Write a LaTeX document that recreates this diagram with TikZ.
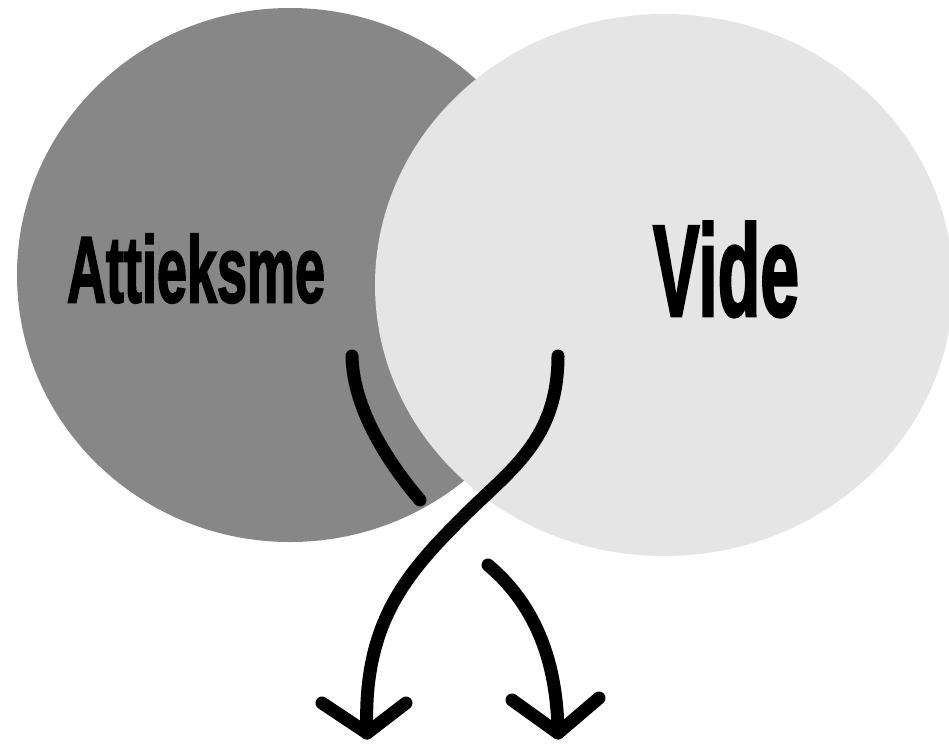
\documentclass[tikz,border=0pt]{standalone}
\usepackage{fontspec}
\setmainfont{Liberation Sans}
\newfontfamily\heavyfont[FakeBold=2.5]{Liberation Sans Bold}
\usetikzlibrary{shapes.geometric}
\definecolor{darkgrey}{RGB}{135,135,135}
\definecolor{lightgrey}{RGB}{229,229,229}
\tikzset{
  blob/.style={ellipse, draw=none, inner sep=0pt, outer sep=0pt},
  label/.style={inner sep=0pt, outer sep=0pt, anchor=south west},
  stroke/.style={line width=13pt, line cap=round, line join=round, black},
}
\begin{document}
\begin{tikzpicture}[x=1pt,y=-1pt]
\useasboundingbox (0,0) rectangle (949,744);
\node[blob, fill=darkgrey, minimum width=546pt, minimum height=534pt] (att) at (290,275) {};
\node[blob, fill=lightgrey, minimum width=578pt, minimum height=542pt] (vid) at (664,285) {};
\node[label] (tatt) at (67,303) {\resizebox{258pt}{68pt}{\heavyfont Attieksme}};
\node[label] (tvid) at (653,317) {\resizebox{146pt}{94pt}{\heavyfont Vide}};
% curve from Attieksme (broken at crossing)
\coordinate (a1) at (352,356);
\coordinate (a2) at (420,500);
\coordinate (a3) at (488,565);
\coordinate (atip) at (558,733);
\coordinate (aarmL) at (512,700);
\coordinate (aarmR) at (599,698);
% curve from Vide
\coordinate (b1) at (558,356);
\coordinate (bmid) at (465,515);
\coordinate (btip) at (367,733);
\coordinate (barmL) at (322,703);
\coordinate (barmR) at (406,703);
\draw[stroke] (a1) .. controls (353,410) and (390,465) .. (a2);
\draw[stroke] (a3) .. controls (520,592) and (557,640) .. (atip);
\draw[stroke] (aarmL) -- (atip) -- (aarmR);
\draw[stroke] (b1) .. controls (558,440) and (510,470) .. (bmid)
  .. controls (410,570) and (362,620) .. (btip);
\draw[stroke] (barmL) -- (btip) -- (barmR);
\end{tikzpicture}
\end{document}
